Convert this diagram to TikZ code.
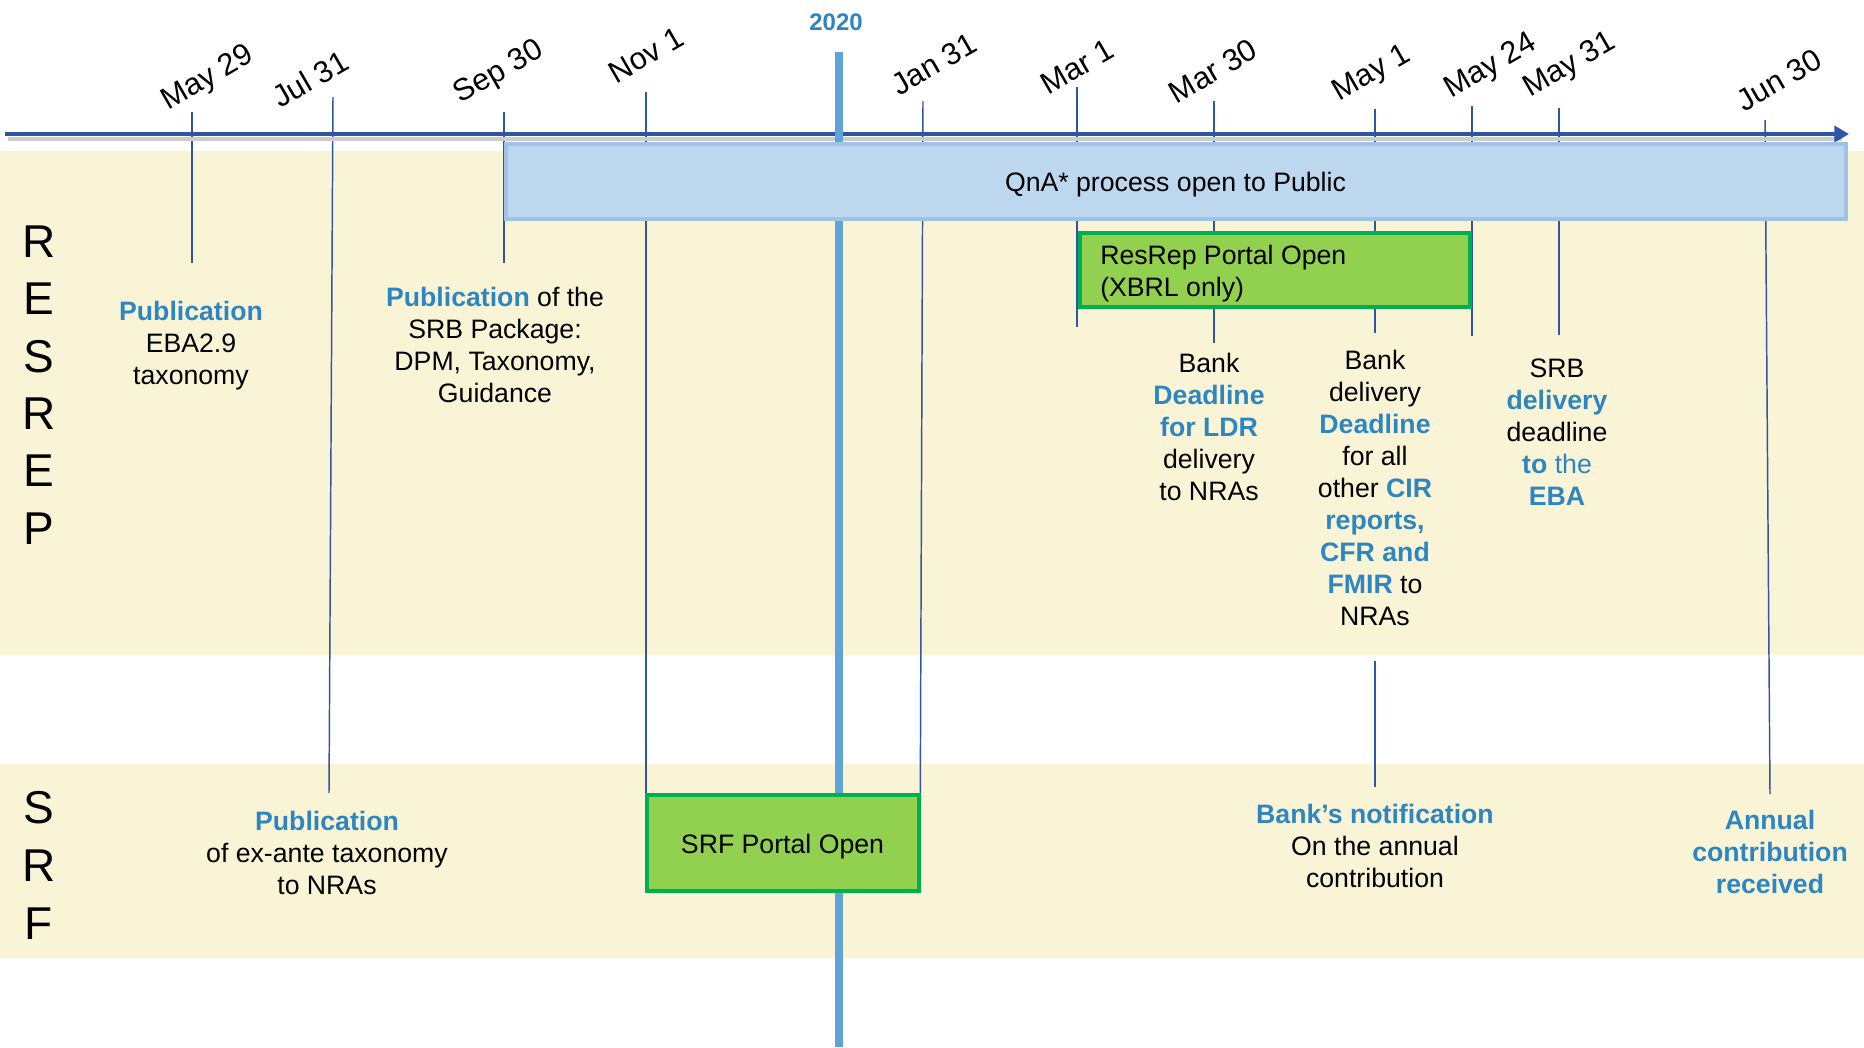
\documentclass[tikz,border=0pt]{standalone}
\usepackage{fontspec}
\setmainfont{Liberation Sans}
\usetikzlibrary{arrows.meta}
\definecolor{axisblue}{HTML}{2F55A4}
\definecolor{txtblue}{HTML}{2E86C1}
\definecolor{yearblue}{HTML}{5FA4D6}
\definecolor{cream}{HTML}{FAF4D7}
\definecolor{qfill}{HTML}{BDD7EE}
\definecolor{qdraw}{HTML}{9DC3E6}
\definecolor{gfill}{HTML}{92D050}
\definecolor{gdraw}{HTML}{00B050}
\newcommand{\hlb}[1]{\textcolor{txtblue}{\textbf{#1}}}
\newcommand{\hlr}[1]{\textcolor{txtblue}{#1}}
\begin{document}
\begin{tikzpicture}[x=0.75pt,y=-0.75pt,
  tickline/.style={draw=axisblue,line width=1.1pt},
  datelbl/.style={rotate=30,font=\fontsize{23}{27}\selectfont,inner sep=0pt},
  evt/.style={align=center,font=\fontsize{20}{24}\selectfont,inner sep=0pt},
  side/.style={font=\fontsize{34.5}{43}\selectfont,align=center,inner sep=0pt},
  portal/.style={draw=gdraw,fill=gfill,line width=3pt,inner sep=0pt},
  band/.style={fill=cream,draw=none},
]
\useasboundingbox (0,0) rectangle (1864,1047);

% bands
\fill[band] (0,151) rectangle (1864,655);
\fill[band] (0,764) rectangle (1864,958);

% 2020 line
\coordinate (ytop) at (839,52);
\coordinate (ybot) at (839,1047);
\draw[yearblue,line width=6pt] (ytop) -- (ybot);

% tick coordinates
\coordinate (tA) at (192,112);  \coordinate (bA) at (192,263);
\coordinate (tB) at (333,97);   \coordinate (bB) at (329,793);
\coordinate (tC) at (504,112);  \coordinate (bC) at (504,263);
\coordinate (tD) at (646,92);   \coordinate (bD) at (646,845);
\coordinate (tE) at (923,101);  \coordinate (bE) at (920,866);
\coordinate (tF) at (1077,87);  \coordinate (bF) at (1077,327);
\coordinate (tG) at (1214,101); \coordinate (bG) at (1214,343);
\coordinate (tH) at (1375,109); \coordinate (bH) at (1375,333);
\coordinate (tH2) at (1375,661); \coordinate (bH2) at (1375,787);
\coordinate (tI) at (1472,106); \coordinate (bI) at (1472,336);
\coordinate (tJ) at (1559,108); \coordinate (bJ) at (1559,335);
\coordinate (tK) at (1765,120); \coordinate (bK) at (1770,794);

\foreach \a/\b in {tA/bA,tB/bB,tC/bC,tD/bD,tE/bE,tF/bF,tG/bG,tH/bH,tH2/bH2,tI/bI,tJ/bJ,tK/bK}
  \draw[tickline] (\a) -- (\b);

% axis
\coordinate (axL) at (5,134);
\coordinate (axR) at (1849,134);
\draw[black!20,line width=3pt] (8,139) -- (1842,139);
\draw[axisblue,line width=3.6pt,-{Triangle[length=11pt,width=12pt]}] (axL) -- (axR);
\draw[yearblue,line width=6pt] (ytop) -- (839,142);

% QnA box
\node[draw=qdraw,fill=qfill,line width=3pt,minimum width=1005pt,minimum height=56pt,inner sep=0pt,
  font=\fontsize{20}{24}\selectfont] (qna) at (1175.5,181.5) {};
\node[inner sep=0pt,font=\fontsize{20}{24}\selectfont] (qnat) at (1175.5,185) {QnA* process open to Public};

% ResRep box
\node[portal,minimum width=293pt,minimum height=55pt] (rr) at (1275,270) {};
\node[anchor=west,align=left,inner sep=0pt,font=\fontsize{20}{24}\selectfont] (rrt) at (1100,274)
  {ResRep Portal Open\\(XBRL only)};

% SRF box
\node[portal,minimum width=204pt,minimum height=72pt] (srf) at (782.5,842.5) {};
\node[inner sep=0pt,font=\fontsize{20}{24}\selectfont] (srft) at (782.5,846.5) {SRF Portal Open};

% year label
\node[font=\fontsize{18}{22}\selectfont\bfseries,text=txtblue,inner sep=0pt] (yr) at (836,22) {2020};

% dates
\node[datelbl] (dA) at (208,79) {May 29};
\node[datelbl] (dB) at (310,79) {Jul 31};
\node[datelbl] (dC) at (499,73) {Sep 30};
\node[datelbl] (dD) at (646,55) {Nov 1};
\node[datelbl] (dE) at (934,64) {Jan 31};
\node[datelbl] (dF) at (1077,67) {Mar 1};
\node[datelbl] (dG) at (1213,71) {Mar 30};
\node[datelbl] (dH) at (1372,74) {May 1};
\node[datelbl] (dI) at (1491,67) {May 24};
\node[datelbl] (dJ) at (1570,66) {May 31};
\node[datelbl] (dK) at (1779,80) {Jun 30};

% side labels
\node[side] (resrep) at (39,385) {R\\E\\S\\R\\E\\P};
\node[side,font=\fontsize{34.5}{43.5}\selectfont] (srfside) at (39,865) {S\\R\\F};

% event texts
\node[evt] (e1) at (191,346) {\hlb{Publication}\\EBA2.9\\taxonomy};
\node[evt] (e2) at (495,345) {\hlb{Publication} of the\\SRB Package:\\DPM, Taxonomy,\\Guidance};
\node[evt] (e3) at (1209,427) {Bank\\\hlb{Deadline}\\\hlb{for LDR}\\delivery\\to NRAs};
\node[evt] (e4) at (1375,487.5) {Bank\\delivery\\\hlb{Deadline}\\for all\\other \hlb{CIR}\\\hlb{reports,}\\\hlb{CFR and}\\\hlb{FMIR} to\\NRAs};
\node[evt] (e5) at (1557,432.5) {SRB\\\hlb{delivery}\\deadline\\\hlb{to} \hlr{the}\\\hlb{EBA}};
\node[evt] (e6) at (327,852.5) {\hlb{Publication}\\of ex-ante taxonomy\\to NRAs};
\node[evt] (e7) at (1375,845.5) {\hlb{Bank’s notification}\\On the annual\\contribution};
\node[evt] (e8) at (1770,851.5) {\hlb{Annual}\\\hlb{contribution}\\\hlb{received}};
\end{tikzpicture}
\end{document}
